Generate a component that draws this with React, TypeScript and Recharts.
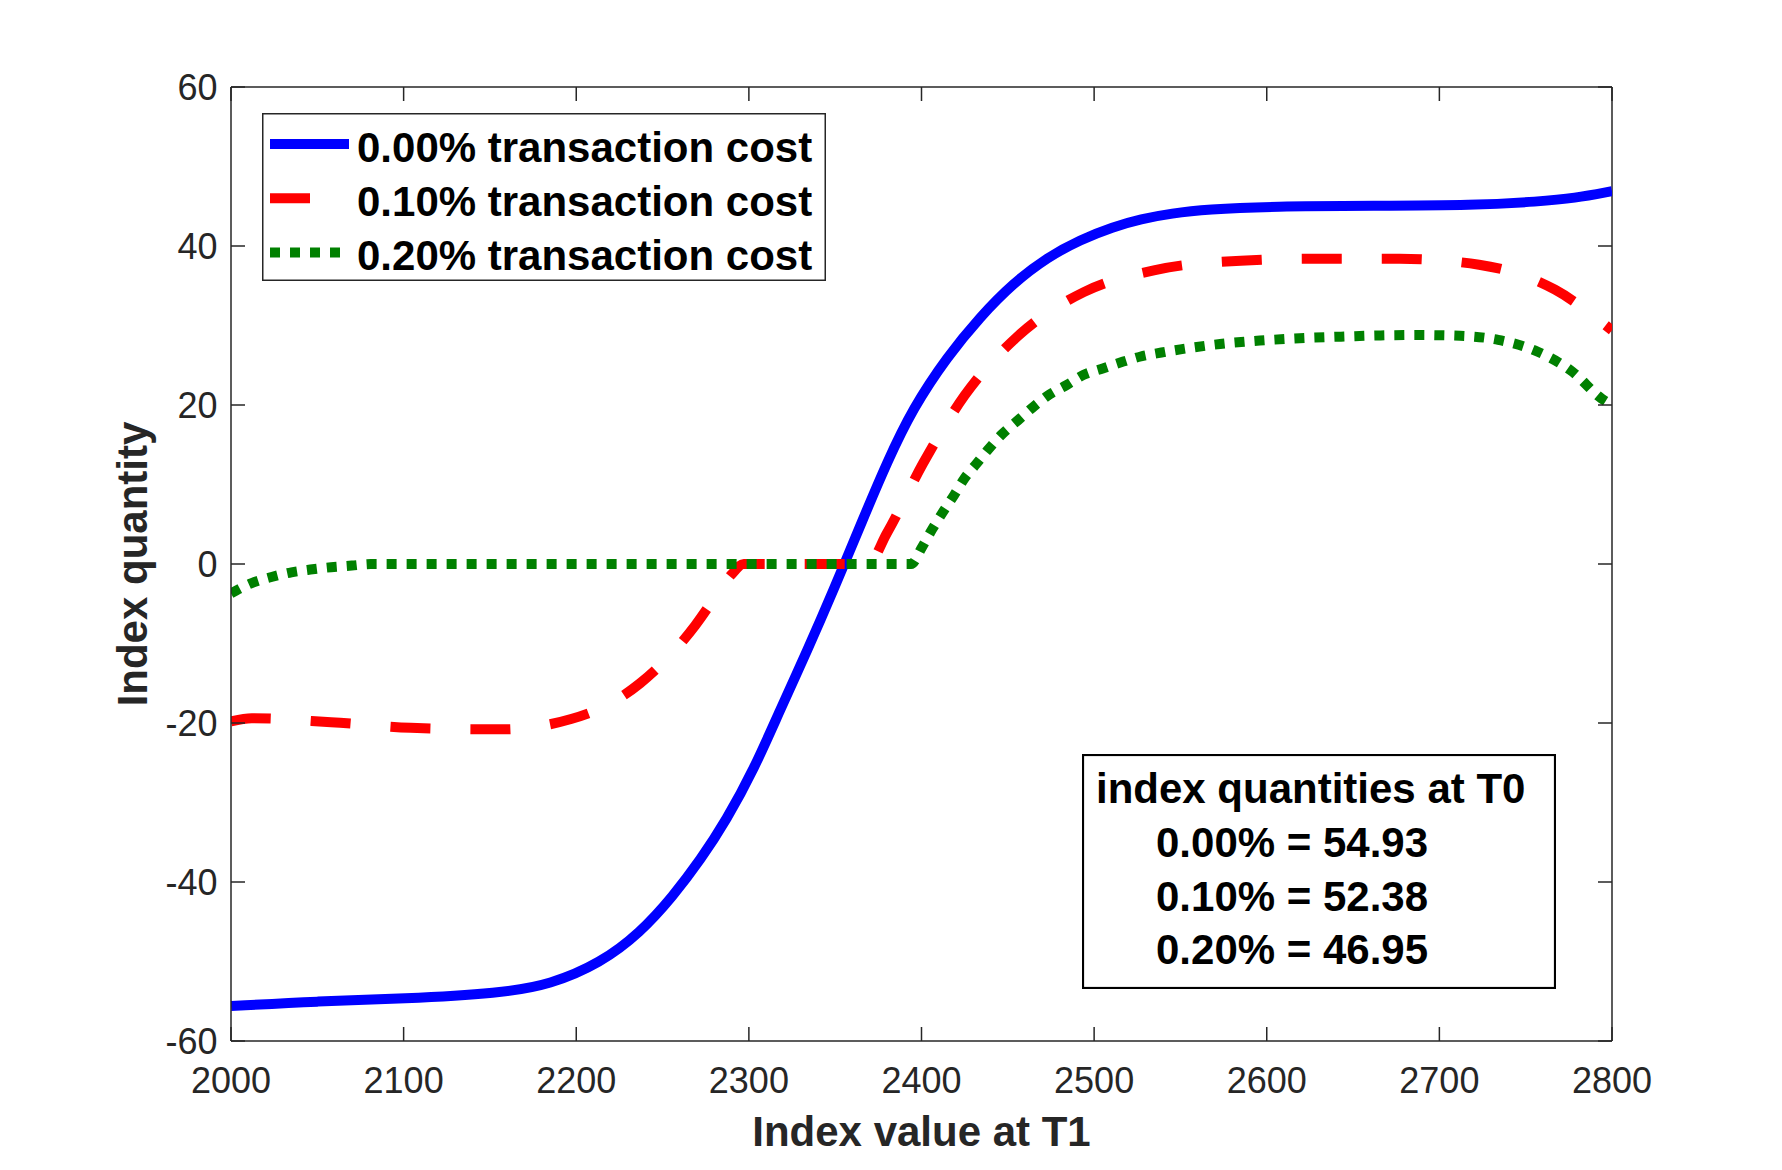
import React from "react";
import {
  LineChart,
  Line,
  XAxis,
  YAxis,
  Legend,
  ReferenceLine
} from "recharts";

// x positions and index quantities, one pair of arrays per curve
const blueX = [2000, 2050, 2100, 2156, 2185, 2214, 2237, 2256, 2272, 2287, 2303, 2318, 2334, 2349, 2366, 2380, 2395, 2415, 2434, 2453, 2473, 2492, 2511, 2527, 2545, 2565, 2604, 2662, 2720, 2758, 2778, 2800];
const blueY = [-55.6, -55.0, -54.7, -54.0, -52.9, -50.2, -46.4, -41.8, -37.2, -32.2, -25.8, -18.4, -10.8, -3.3, 5.6, 12.8, 19.6, 26.1, 31.1, 35.3, 38.6, 40.8, 42.4, 43.4, 44.1, 44.6, 45.0, 45.05, 45.1, 45.6, 46.0, 46.9];

const redX = [2000, 2012, 2058, 2104, 2156, 2197, 2220, 2237, 2269, 2281, 2290, 2297, 2369, 2380, 2401, 2425, 2456, 2494, 2536, 2585, 2631, 2677, 2723, 2767, 2800];
const redY = [-19.8, -19.4, -19.9, -20.6, -20.8, -19.5, -17.5, -15.0, -7.7, -4.0, -1.3, 0, 0, 3.9, 12.7, 21.2, 28.7, 34.2, 37.0, 38.15, 38.4, 38.4, 37.65, 34.5, 29.4];

const greenX = [2000, 2012, 2024, 2035, 2046, 2058, 2070, 2081, 2394, 2400, 2406, 2412, 2419, 2425, 2432, 2439, 2447, 2456, 2465, 2474, 2484, 2494, 2505, 2516, 2527, 2539, 2550, 2573, 2596, 2619, 2643, 2666, 2689, 2712, 2734, 2757, 2777, 2794, 2800];
const greenY = [-3.7, -2.4, -1.6, -1.05, -0.7, -0.4, -0.2, 0, 0, 2.0, 4.3, 6.4, 8.7, 10.8, 12.65, 14.5, 16.4, 18.1, 19.8, 21.3, 22.5, 23.8, 24.6, 25.4, 26.1, 26.6, 27.0, 27.67, 28.1, 28.4, 28.6, 28.75, 28.8, 28.7, 28.2, 26.7, 24.2, 20.8, 20.0];

const xTicks = [2000, 2100, 2200, 2300, 2400, 2500, 2600, 2700, 2800];
const yTicks = [-60, -40, -20, 0, 20, 40, 60];

const seriesNames = ["0.00% transaction cost", "0.10% transaction cost", "0.20% transaction cost"];
const noteTitle = "index quantities at T0";
const noteLines = ["0.00% = 54.93", "0.10% = 52.38", "0.20% = 46.95"];

const toPoints = (xs: number[], ys: number[]) => xs.map((x, i) => ({ x, y: ys[i] }));

const FONT = '"Liberation Sans", Arial, Helvetica, sans-serif';
const AXIS = "#262626";
const BLUE = "#0000ff";
const RED = "#ff0000";
const GREEN = "#008000";

const W = 1782;
const H = 1170;
const PLOT_LEFT = 231;
const PLOT_TOP = 87;
const PLOT_RIGHT = 1612;
const PLOT_BOTTOM = 1041;
const TICK = 14;

const styles = [
  { color: BLUE, dash: undefined },
  { color: RED, dash: "40 40" },
  { color: GREEN, dash: "10 10" }
];

// inward ticks on both sides of the box, matlab style
const XTick = (props: any) => {
  const { x, payload } = props;
  return (
    <g>
      <line x1={x} x2={x} y1={PLOT_BOTTOM} y2={PLOT_BOTTOM - TICK} stroke={AXIS} strokeWidth={1.5} />
      <line x1={x} x2={x} y1={PLOT_TOP} y2={PLOT_TOP + TICK} stroke={AXIS} strokeWidth={1.5} />
      <text x={x} y={1093} textAnchor="middle" fill={AXIS} fontSize={36} fontFamily={FONT}>
        {payload.value}
      </text>
    </g>
  );
};

const YTick = (props: any) => {
  const { y, payload } = props;
  return (
    <g>
      <line x1={PLOT_LEFT} x2={PLOT_LEFT + TICK} y1={y} y2={y} stroke={AXIS} strokeWidth={1.5} />
      <line x1={PLOT_RIGHT} x2={PLOT_RIGHT - TICK} y1={y} y2={y} stroke={AXIS} strokeWidth={1.5} />
      <text x={217.5} y={y} dy="0.355em" textAnchor="end" fill={AXIS} fontSize={36} fontFamily={FONT}>
        {payload.value}
      </text>
    </g>
  );
};

const LegendBox = () => (
  <svg width={564} height={168} style={{ display: "block" }}>
    <rect x={0.75} y={0.75} width={562.5} height={166.5} fill="#fff" stroke={AXIS} strokeWidth={1.5} />
    {seriesNames.map((name, i) => (
      <g key={name}>
        <line
          x1={8}
          x2={87}
          y1={31 + i * 54.3}
          y2={31 + i * 54.3}
          stroke={styles[i].color}
          strokeWidth={10}
          strokeDasharray={styles[i].dash}
        />
        <text x={95} y={48.5 + i * 54.3} fontFamily={FONT} fontWeight="bold" fontSize={42} fill="#000">
          {name}
        </text>
      </g>
    ))}
  </svg>
);

const NoteBox = () => (
  <div style={{ position: "absolute", left: 1082, top: 754, width: 474, height: 235 }}>
    <svg width={474} height={235} style={{ display: "block" }}>
      <rect x={1} y={1} width={472} height={233} fill="#fff" stroke="#000" strokeWidth={2.2} />
      <text x={14} y={49} fontFamily={FONT} fontWeight="bold" fontSize={42} fill="#000">
        {noteTitle}
      </text>
      {noteLines.map((t, i) => (
        <text key={t} x={74} y={103 + i * 53.5} fontFamily={FONT} fontWeight="bold" fontSize={42} fill="#000">
          {t}
        </text>
      ))}
    </svg>
  </div>
);

export default function App() {
  return (
    <div style={{ position: "absolute", left: 0, top: 0, width: W, height: H, background: "#fff" }}>
      <LineChart
        width={W}
        height={H}
        margin={{ top: PLOT_TOP, right: W - PLOT_RIGHT, bottom: 49, left: 131 }}
      >
        <XAxis
          dataKey="x"
          type="number"
          domain={[2000, 2800]}
          ticks={xTicks}
          allowDataOverflow
          height={H - PLOT_BOTTOM - 49}
          tickLine={false}
          tick={<XTick />}
          stroke={AXIS}
          strokeWidth={1.5}
          label={{
            content: () => (
              <text
                x={(PLOT_LEFT + PLOT_RIGHT) / 2}
                y={1146}
                textAnchor="middle"
                fontFamily={FONT}
                fontWeight="bold"
                fontSize={42}
                fill={AXIS}
              >
                Index value at T1
              </text>
            )
          }}
        />
        <YAxis
          type="number"
          domain={[-60, 60]}
          ticks={yTicks}
          allowDataOverflow
          width={PLOT_LEFT - 131}
          tickLine={false}
          tick={<YTick />}
          stroke={AXIS}
          strokeWidth={1.5}
          label={{
            content: () => (
              <text
                x={146.7}
                y={(PLOT_TOP + PLOT_BOTTOM) / 2}
                transform={`rotate(-90 146.7 ${(PLOT_TOP + PLOT_BOTTOM) / 2})`}
                textAnchor="middle"
                fontFamily={FONT}
                fontWeight="bold"
                fontSize={42}
                fill={AXIS}
              >
                Index quantity
              </text>
            )
          }}
        />
        <ReferenceLine y={60} stroke={AXIS} strokeWidth={1.5} ifOverflow="visible" />
        <ReferenceLine x={2800} stroke={AXIS} strokeWidth={1.5} ifOverflow="visible" />
        <Line
          data={toPoints(blueX, blueY)}
          dataKey="y"
          name={seriesNames[0]}
          type="basis"
          stroke={BLUE}
          strokeWidth={10}
          dot={false}
          activeDot={false}
          isAnimationActive={false}
        />
        <Line
          data={toPoints(redX, redY)}
          dataKey="y"
          name={seriesNames[1]}
          type="monotone"
          stroke={RED}
          strokeWidth={10}
          strokeDasharray="40 40"
          dot={false}
          activeDot={false}
          isAnimationActive={false}
        />
        <Line
          data={toPoints(greenX, greenY)}
          dataKey="y"
          name={seriesNames[2]}
          type="monotone"
          stroke={GREEN}
          strokeWidth={10}
          strokeDasharray="10 10"
          dot={false}
          activeDot={false}
          isAnimationActive={false}
        />
        <Legend
          layout="vertical"
          align="center"
          verticalAlign="middle"
          wrapperStyle={{ left: 262, top: 113, width: 564, height: 168 }}
          content={() => <LegendBox />}
        />
      </LineChart>
      <NoteBox />
    </div>
  );
}
